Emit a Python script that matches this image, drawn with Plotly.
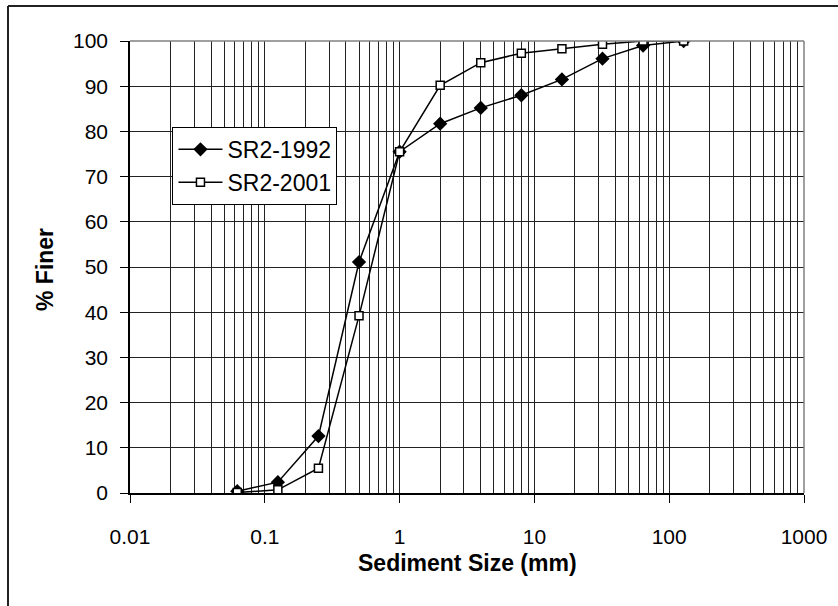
import plotly.graph_objects as go

sizes = [0.0625, 0.125, 0.25, 0.5, 1, 2, 4, 8, 16, 32, 64, 128]
finer_1992 = [0.4, 2.4, 12.6, 51.1, 75.5, 81.7, 85.2, 88.0, 91.5, 96.1, 99.0, 100]
finer_2001 = [0.1, 0.7, 5.5, 39.2, 75.5, 90.2, 95.2, 97.3, 98.3, 99.3, 100, 100]
x_tick_vals = [0.01, 0.1, 1, 10, 100, 1000]
x_tick_text = ["0.01", "0.1", "1", "10", "100", "1000"]
minor_vals = [m * d for d in [0.01, 0.1, 1, 10, 100] for m in range(2, 10)]

FONT = "Liberation Sans, Arial, sans-serif"
GRID = "#222222"

fig = go.Figure()
fig.add_trace(go.Scatter(
    x=sizes, y=finer_1992, name="SR2-1992", mode="lines+markers",
    line=dict(color="black", width=1.5),
    marker=dict(symbol="diamond", size=11, color="black"),
))
fig.add_trace(go.Scatter(
    x=sizes, y=finer_2001, name="SR2-2001", mode="lines+markers",
    line=dict(color="black", width=1.5),
    marker=dict(symbol="square", size=8, color="white", line=dict(color="black", width=1.5)),
))

fig.update_layout(
    width=838, height=606,
    margin=dict(l=130, r=34, t=41, b=113),
    paper_bgcolor="white", plot_bgcolor="white",
    font=dict(family=FONT, color="black", size=21),
    showlegend=True,
    legend=dict(
        x=0.063, y=0.81, xanchor="left", yanchor="top",
        bgcolor="white", bordercolor="black", borderwidth=1,
        font=dict(size=23, family=FONT, color="black"),
        itemwidth=44,
    ),
    xaxis=dict(
        type="log", range=[-2, 3],
        tickmode="array", tickvals=x_tick_vals, ticktext=x_tick_text,
        ticks="outside", ticklen=8, tickcolor="black", tickwidth=1,
        showline=True, linecolor="black", linewidth=1.5,
        showgrid=True, gridcolor=GRID, gridwidth=1,
        minor=dict(tickmode="array", tickvals=minor_vals, showgrid=True,
                   gridcolor=GRID, gridwidth=1, ticks=""),
        tickfont=dict(size=21), ticklabelstandoff=16,
        zeroline=False,
    ),
    yaxis=dict(
        range=[0, 100], dtick=10, tick0=0,
        ticks="outside", ticklen=8, tickcolor="black", tickwidth=1,
        showline=True, linecolor="black", linewidth=1.5,
        showgrid=True, gridcolor=GRID, gridwidth=1,
        tickfont=dict(size=21), ticklabelstandoff=8,
        zeroline=False,
    ),
    annotations=[
        dict(text="<b>Sediment Size (mm)</b>", xref="paper", yref="paper",
             x=0.5, y=(493 - 563) / 452, xanchor="center", yanchor="middle",
             showarrow=False, font=dict(size=23, family=FONT, color="black")),
        dict(text="<b>% Finer</b>", xref="paper", yref="paper",
             x=(45 - 130) / 674, y=(493 - 270) / 452, xanchor="center", yanchor="middle",
             textangle=-90, showarrow=False, font=dict(size=23, family=FONT, color="black")),
    ],
    shapes=[
        dict(type="line", xref="paper", yref="paper", x0=0, x1=1, y0=1, y1=1,
             line=dict(color="#808080", width=1.5)),
        dict(type="line", xref="paper", yref="paper", x0=1, x1=1, y0=0, y1=1,
             line=dict(color="#808080", width=1.5)),
        dict(type="line", xref="paper", yref="paper", x0=(8 - 130) / 674, x1=(838 - 130) / 674,
             y0=(493 - 6) / 452, y1=(493 - 6) / 452, line=dict(color="#222222", width=2)),
        dict(type="line", xref="paper", yref="paper", x0=(8 - 130) / 674, x1=(8 - 130) / 674,
             y0=(493 - 6) / 452, y1=(493 - 610) / 452, line=dict(color="#222222", width=2)),
    ],
)

fig.write_html("out.html")
